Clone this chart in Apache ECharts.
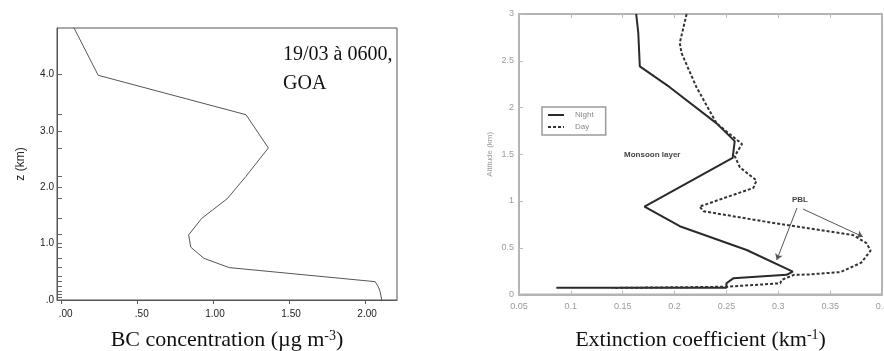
<!DOCTYPE html>
<html>
<head>
<meta charset="utf-8">
<script src="https://cdn.jsdelivr.net/npm/echarts@6/dist/echarts.min.js"></script>
<style>
  html, body { margin: 0; padding: 0; background: #fff; }
  #chart { width: 884px; height: 351px; }
</style>
</head>
<body>
<div id="chart"></div>
<script>
// left panel: BC profile, 19/03 0600 GOA
const bcX = [0.073, 0.245, 1.217, 1.364, 1.215, 1.094, 0.926, 0.84, 0.853, 0.94, 1.107, 2.066, 2.087, 2.099, 2.11];
const bcZ = [4.9, 3.99, 3.29, 2.70, 2.19, 1.80, 1.45, 1.157, 0.94, 0.74, 0.575, 0.326, 0.237, 0.148, 0.0];
const bcXTicks = [0, 0.5, 1, 1.5, 2];
const bcZTicks = [0, 1, 2, 3, 4];
const modelLevels = [3.29, 2.70, 2.19, 1.80, 1.45, 1.16, 0.94, 0.74, 0.575, 0.43, 0.33, 0.24, 0.16, 0.1, 0.05];

// right panel: extinction coefficient, night / day
const nightX = [0.163, 0.165, 0.1665, 0.195, 0.2405, 0.258, 0.256, 0.171, 0.205, 0.2695, 0.314, 0.308, 0.2566, 0.25, 0.25, 0.086];
const nightZ = [3.0, 2.8, 2.44, 2.22, 1.83, 1.64, 1.46, 0.94, 0.73, 0.476, 0.244, 0.21, 0.173, 0.12, 0.073, 0.073];
const dayX = [0.2116, 0.205, 0.2068, 0.221, 0.2405, 0.265, 0.258, 0.263, 0.279, 0.276, 0.224, 0.228, 0.298, 0.372, 0.385, 0.389, 0.38, 0.36, 0.33, 0.315, 0.303, 0.302, 0.25, 0.14];
const dayZ = [3.0, 2.69, 2.58, 2.22, 1.83, 1.61, 1.48, 1.36, 1.22, 1.14, 0.94, 0.89, 0.76, 0.636, 0.55, 0.47, 0.34, 0.24, 0.215, 0.21, 0.155, 0.12, 0.083, 0.07];
const extTicks = [0.05, 0.1, 0.15, 0.2, 0.25, 0.3, 0.35, 0.4];
const altTicks = [0, 0.5, 1, 1.5, 2, 2.5, 3];
// PBL arrows [from, to] in data coords
const pblArrows = [
  [[0.318, 0.925], [0.2985, 0.369]],
  [[0.3238, 0.914], [0.3815, 0.618]]
];

const pairs = (xs, zs) => xs.map((x, i) => [x, zs[i]]);

const chart = echarts.init(document.getElementById('chart'));

const serif = 'Liberation Serif, Times New Roman, serif';
const sans = 'Liberation Sans, Arial, sans-serif';
const grayTxt = '#9a9a9a';
const titleStyle = {
  fontFamily: serif, fontSize: 22, color: '#111',
  rich: { sup: { fontFamily: serif, fontSize: 14, color: '#111', verticalAlign: 'top', padding: [0, 0, 9, 0] } }
};

chart.setOption({
  animation: false,
  grid: [
    { left: 57, top: 28, width: 340, height: 272, outerBoundsMode: 'none', show: true, borderColor: '#555', borderWidth: 1 },
    { left: 519, top: 14, width: 363, height: 280.5, outerBoundsMode: 'none', show: true, borderColor: '#b4b4b4', borderWidth: 2 }
  ],
  xAxis: [
    {
      gridIndex: 0, type: 'value', min: -0.026, max: 2.21,
      splitLine: { show: false },
      axisLine: { onZero: false, lineStyle: { color: '#555' } },
      axisTick: { customValues: bcXTicks, length: 4, lineStyle: { color: '#555' } },
      axisLabel: {
        customValues: bcXTicks, fontSize: 10, fontFamily: sans, color: '#222', margin: 9,
        padding: [0, 0, 0, 4],
        formatter: v => (v < 1 ? '\u2007' + v.toFixed(2).slice(1) : v.toFixed(2))
      },
      name: 'BC concentration (µg m{sup|-3})',
      nameLocation: 'middle', nameGap: 29,
      nameTextStyle: titleStyle
    },
    {
      gridIndex: 1, type: 'value', min: 0.05, max: 0.4,
      splitLine: { show: false },
      axisLine: { onZero: false, lineStyle: { color: '#b4b4b4', width: 2 } },
      axisTick: { customValues: extTicks, inside: true, length: 4, lineStyle: { color: '#bbb' } },
      axisLabel: { customValues: extTicks, fontSize: 9, fontFamily: sans, color: grayTxt, margin: 8 },
      name: 'Extinction coefficient (km{sup|-1})',
      nameLocation: 'middle', nameGap: 34,
      nameTextStyle: titleStyle
    },
    {
      gridIndex: 1, type: 'value', min: 0.05, max: 0.4, position: 'top',
      splitLine: { show: false },
      axisLine: { show: false, onZero: false },
      axisTick: { customValues: extTicks, inside: true, length: 4, lineStyle: { color: '#bbb' } },
      axisLabel: { show: false }
    }
  ],
  yAxis: [
    {
      gridIndex: 0, type: 'value', min: 0, max: 4.83,
      splitLine: { show: false },
      axisLine: { onZero: false, lineStyle: { color: '#555' } },
      axisTick: { customValues: bcZTicks.concat(modelLevels), inside: true, length: 5, lineStyle: { color: '#666' } },
      axisLabel: {
        customValues: bcZTicks, fontSize: 10, fontFamily: sans, color: '#222', margin: 3,
        formatter: v => (v === 0 ? '.0' : v.toFixed(1))
      },
      name: 'z (km)', nameLocation: 'middle', nameGap: 30,
      nameTextStyle: { fontFamily: sans, fontSize: 12, color: '#222' }
    },
    {
      gridIndex: 1, type: 'value', min: 0, max: 3,
      splitLine: { show: false },
      axisLine: { onZero: false, lineStyle: { color: '#b4b4b4', width: 2 } },
      axisTick: { customValues: altTicks, inside: true, length: 4, lineStyle: { color: '#bbb' } },
      axisLabel: { customValues: altTicks, fontSize: 9, fontFamily: sans, color: grayTxt, margin: 5 },
      name: 'Altitude (km)', nameLocation: 'middle', nameGap: 25,
      nameTextStyle: { fontFamily: sans, fontSize: 8, color: grayTxt }
    }
  ],
  legend: {
    data: ['Night', 'Day'], orient: 'vertical',
    left: 542, top: 107,
    itemWidth: 16, itemHeight: 9, itemGap: 4,
    padding: [4, 12, 4, 5],
    borderColor: '#9a9a9a', borderWidth: 1.5,
    itemStyle: { opacity: 0 },
    textStyle: { fontSize: 8, fontFamily: sans, color: '#888', padding: [0, 0, 0, 6] }
  },
  series: [
    {
      name: 'BC', type: 'line', xAxisIndex: 0, yAxisIndex: 0,
      data: pairs(bcX, bcZ), symbol: 'none',
      lineStyle: { color: '#555', width: 1 }
    },
    {
      name: 'Night', type: 'line', xAxisIndex: 1, yAxisIndex: 1,
      data: pairs(nightX, nightZ), symbol: 'none',
      itemStyle: { color: '#2a2a2a' },
      lineStyle: { color: '#2a2a2a', width: 2 }
    },
    {
      name: 'Day', type: 'line', xAxisIndex: 1, yAxisIndex: 1,
      data: pairs(dayX, dayZ), symbol: 'none',
      itemStyle: { color: '#333' },
      lineStyle: { color: '#333', width: 2, type: [3, 2] },
      markLine: {
        silent: true, symbol: ['none', 'arrow'], symbolSize: 6,
        label: { show: false },
        lineStyle: { color: '#555', width: 1, type: 'solid' },
        data: pblArrows.map(a => [{ coord: a[0] }, { coord: a[1] }])
      }
    }
  ],
  graphic: [
    {
      type: 'text', left: 283, top: 40,
      style: { text: '19/03 à 0600,\nGOA', font: '20px ' + serif, fill: '#111', lineHeight: 29 }
    },
    {
      type: 'text', left: 624, top: 151,
      style: { text: 'Monsoon layer', font: 'bold 8px ' + sans, fill: '#444' }
    },
    {
      type: 'text', left: 792, top: 196,
      style: { text: 'PBL', font: 'bold 8px ' + sans, fill: '#444' }
    }
  ]
});
</script>
</body>
</html>
